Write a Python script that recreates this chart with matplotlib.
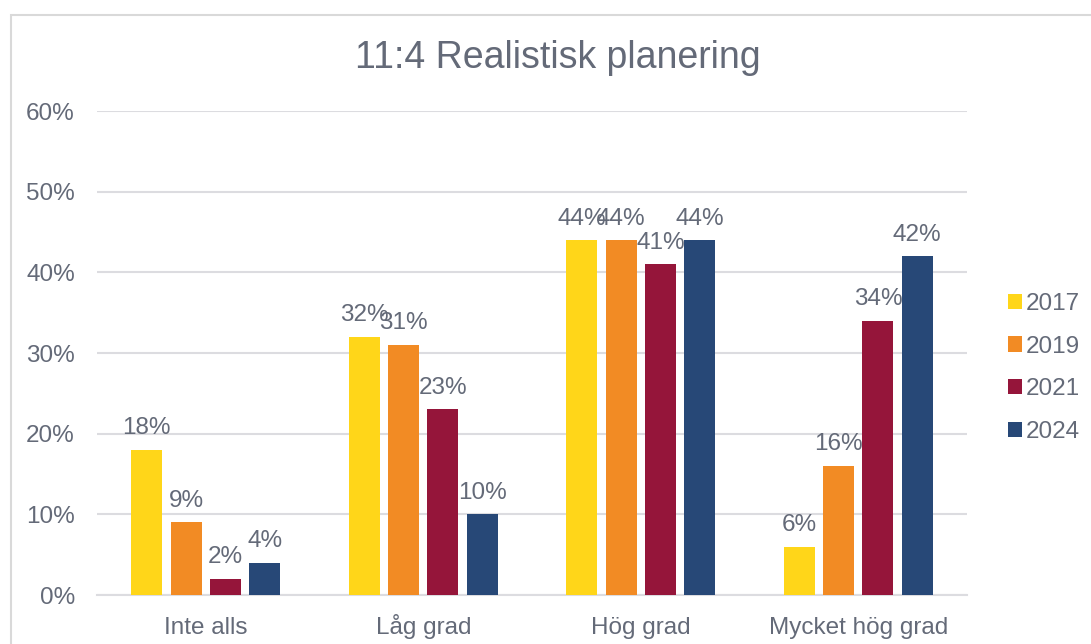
import matplotlib.pyplot as plt
import numpy as np
from matplotlib.patches import Rectangle

categories = ["Inte alls", "Låg grad", "Hög grad", "Mycket hög grad"]
years = ["2017", "2019", "2021", "2024"]
v2017 = [18, 32, 44, 6]
v2019 = [9, 31, 44, 16]
v2021 = [2, 23, 41, 34]
v2024 = [4, 10, 44, 42]
colors = ["#FFD619", "#F28B24", "#95153A", "#274877"]

txt = "#646a78"
plt.rcParams["font.family"] = ["Liberation Sans", "DejaVu Sans"]

fig = plt.figure(figsize=(10.91, 6.44), dpi=100)
# light outer frame (chart area border, cut at right/bottom)
fig.patches.append(Rectangle((11 / 1091, -0.1), 1.2, 1 - 15 / 644 + 0.1,
                             transform=fig.transFigure, fill=False,
                             edgecolor="#d9d9d9", linewidth=1.5))

ax = fig.add_axes([97 / 1091, 49 / 644, 870 / 1091, 484 / 644])

x = np.arange(len(categories))
width = 0.143
step = 0.181
series = [v2017, v2019, v2021, v2024]
for i, (vals, yr, c) in enumerate(zip(series, years, colors)):
    pos = x + (i - 1.5) * step
    bars = ax.bar(pos, vals, width, color=c, label=yr, zorder=3)
    for b, v in zip(bars, vals):
        ax.text(b.get_x() + b.get_width() / 2, v + 1.3, f"{v}%",
                ha="center", va="bottom", fontsize=17.5, color=txt)

ax.set_xlim(-0.5, 3.5)
ax.set_ylim(0, 60)
ax.set_yticks(range(0, 61, 10))
ax.set_yticklabels([f"{t}%" for t in range(0, 61, 10)])
ax.set_xticks(x)
ax.set_xticklabels(categories)
ax.tick_params(axis="both", length=0, labelsize=17.5, labelcolor=txt)
ax.tick_params(axis="y", pad=16)
ax.tick_params(axis="x", pad=28)
for lbl in ax.get_xticklabels():
    lbl.set_va("baseline")
ax.grid(axis="y", color="#dcdce0", linewidth=1.5, zorder=0)
for s in ["top", "right", "left"]:
    ax.spines[s].set_visible(False)
ax.spines["bottom"].set_color("#dcdce0")
ax.spines["bottom"].set_linewidth(1.5)

fig.text(558 / 1091, 1 - 58 / 644, "11:4 Realistisk planering",
         ha="center", va="center", fontsize=27, color=txt)

ax.legend(loc="center left", bbox_to_anchor=(1.047, 0.469), frameon=False,
          borderpad=0, borderaxespad=0,
          fontsize=17.5, labelcolor=txt, handlelength=0.6, handleheight=0.6,
          handletextpad=0.15, labelspacing=0.85)

fig.savefig("out.png", dpi=100)
